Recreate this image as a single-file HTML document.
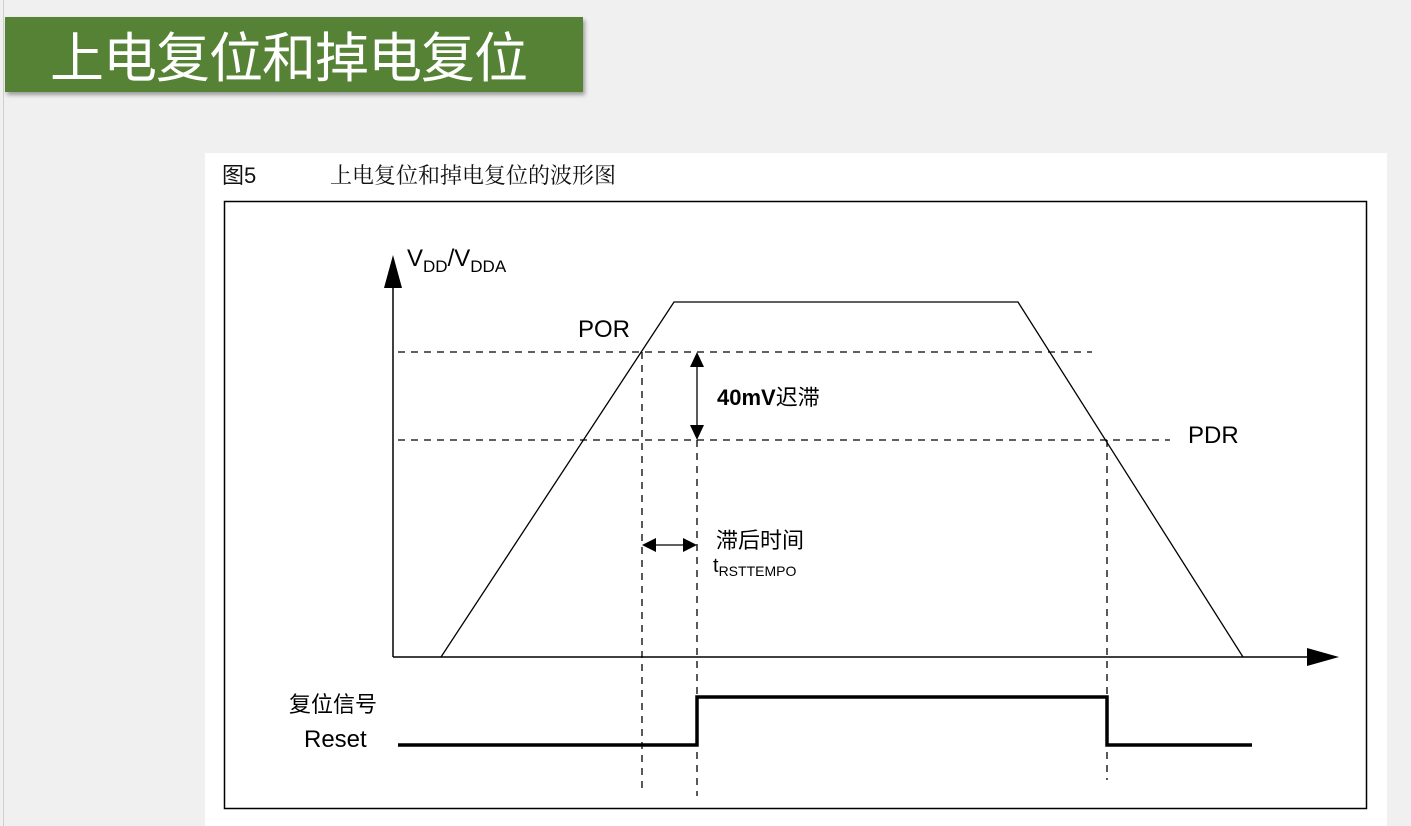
<!DOCTYPE html>
<html><head><meta charset="utf-8"><style>
html,body{margin:0;padding:0;background:#f0f0f0;width:1411px;height:826px;overflow:hidden;font-family:"Liberation Sans","Noto Sans CJK SC",sans-serif}
</style></head><body>
<svg width="1411" height="826" xmlns="http://www.w3.org/2000/svg" style="position:absolute;left:0;top:0">
<defs><filter id="sh" x="-5%" y="-10%" width="110%" height="130%"><feDropShadow dx="2" dy="3" stdDeviation="2" flood-color="#000" flood-opacity="0.35"/></filter></defs>
<line x1="3.5" y1="0" x2="3.5" y2="826" stroke="#cfcfcf" stroke-width="1"/>
<rect x="5" y="17" width="578" height="75" fill="#548235" filter="url(#sh)"/>
<text x="50" y="77" font-size="54" fill="#fff" font-family="Liberation Sans,Noto Sans CJK SC,sans-serif" textLength="478">上电复位和掉电复位</text>
<rect x="205" y="153" width="1182" height="673" fill="#fff"/>
<text x="222" y="183" font-size="22" fill="#111">图5</text>
<text x="330" y="183" font-size="22" fill="#111" font-family="Noto Serif CJK SC,serif">上电复位和掉电复位的波形图</text>
<rect x="224.5" y="201.5" width="1142" height="607" fill="none" stroke="#000" stroke-width="1.5"/>
<g stroke="#000" fill="none">
<line x1="393" y1="285" x2="393" y2="657" stroke-width="1.5"/>
<line x1="393" y1="657" x2="1310" y2="657" stroke-width="1.5"/>
<polyline points="441,657 674,302 1018,302 1243,657" stroke-width="1.3"/>
<g stroke-dasharray="7,6" stroke-width="1.3">
<line x1="398" y1="352" x2="1092" y2="352"/>
<line x1="398" y1="440" x2="1170" y2="440"/>
<line x1="642" y1="352" x2="642" y2="792"/>
<line x1="697" y1="440" x2="697" y2="796"/>
<line x1="1107" y1="440" x2="1107" y2="780"/>
</g>
<line x1="697" y1="365" x2="697" y2="428" stroke-width="1.3"/>
<line x1="654" y1="545" x2="685" y2="545" stroke-width="1.3"/>
<polyline points="398,745 697,745 697,697 1107,697 1107,745 1252,745" stroke-width="3.5"/>
</g>
<g fill="#000">
<polygon points="393,255 384,288 402,288"/>
<polygon points="1339,657 1307,648 1307,666"/>
<polygon points="697,352 690,367 704,367"/>
<polygon points="697,440 690,425 704,425"/>
<polygon points="642,545 656,538 656,552"/>
<polygon points="697,545 683,538 683,552"/>
</g>
<g fill="#000" font-size="24">
<text x="407" y="266">V<tspan font-size="17" dy="6">DD</tspan><tspan dy="-6">/V</tspan><tspan font-size="17" dy="6">DDA</tspan></text>
<text x="578" y="337">POR</text>
<text x="1188" y="443">PDR</text>
<text x="717" y="405" font-weight="bold" font-size="22">40mV<tspan font-weight="normal">迟滞</tspan></text>
<text x="716" y="548" font-size="22">滞后时间</text>
<text x="713" y="572" font-size="20">t<tspan font-size="14" dy="4">RSTTEMPO</tspan></text>
<text x="289" y="712" font-size="22">复位信号</text>
<text x="304" y="747">Reset</text>
</g>
</svg>
</body></html>
